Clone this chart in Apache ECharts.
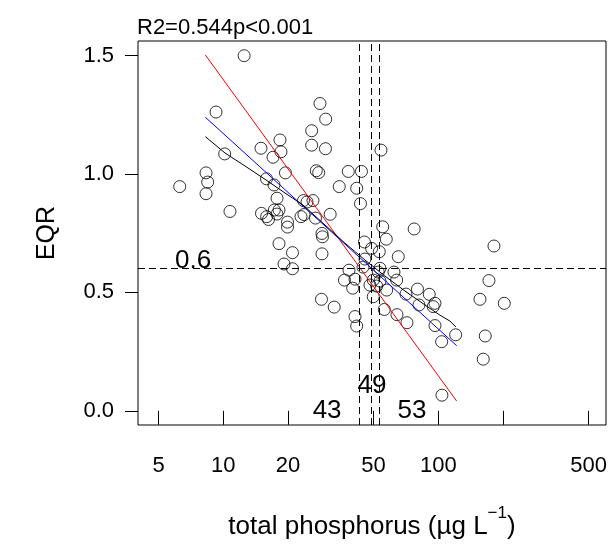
<!DOCTYPE html>
<html>
<head>
<meta charset="utf-8">
<script src="https://cdn.jsdelivr.net/npm/echarts@6/dist/echarts.min.js"></script>
<style>
  html, body { margin: 0; padding: 0; background: #fff; }
  #main { width: 613px; height: 551px; }
</style>
</head>
<body>
<div id="main"></div>
<script>
// sites: total phosphorus (ug/L) vs EQR
var tp = [12.5, 9.25, 10.15, 8.31, 8.46, 8.31, 6.27, 10.74, 14.97, 18.35,
  18.55, 17.03, 15.88, 17.21, 19.46, 17.78, 28.17, 29.94, 25.77, 25.77,
  29.87, 27.08, 27.78, 38.14, 43.93, 34.63, 41.73, 43.46, 54.14, 23.61,
  24.51, 26.13, 31.42, 15.05, 15.91, 16.23, 17.27, 17.78, 18.16, 19.89,
  19.89, 22.98, 23.73, 26.85, 28.78, 28.93, 18.16, 20.98, 28.78, 19.16,
  20.98, 28.62, 32.8, 55.13, 77.25, 57.3, 45.36, 48.99, 53.17, 65.16,
  45.6, 38.43, 44.65, 53.56, 52.6, 62.23, 36.62, 40.99, 39.99, 48.11,
  51.71, 53.56, 64.04, 57.54, 49.84, 80.04, 70.76, 90.81, 81.33, 96.54,
  94.78, 56.09, 64.24, 71.52, 40.99, 41.73, 96.54, 120.5, 103.7, 104.0,
  181.6, 172.1, 156.3, 202.8, 165.4, 161.9, 49.84];
var eqr = [1.50, 1.262, 1.085, 1.005, 0.966, 0.917, 0.947, 0.842, 1.109, 1.144,
  1.094, 1.071, 0.980, 0.954, 1.005, 0.898, 1.298, 1.232, 1.183, 1.122,
  1.107, 1.014, 1.006, 1.011, 1.011, 0.947, 0.940, 0.875, 1.101, 0.888,
  0.882, 0.888, 0.830, 0.834, 0.820, 0.808, 0.848, 0.831, 0.848, 0.797,
  0.776, 0.820, 0.829, 0.814, 0.749, 0.735, 0.706, 0.668, 0.663, 0.620,
  0.600, 0.471, 0.438, 0.777, 0.768, 0.725, 0.713, 0.686, 0.672, 0.651,
  0.641, 0.594, 0.607, 0.602, 0.586, 0.586, 0.552, 0.556, 0.518, 0.531,
  0.527, 0.548, 0.552, 0.510, 0.482, 0.514, 0.493, 0.492, 0.447, 0.454,
  0.440, 0.428, 0.406, 0.372, 0.398, 0.358, 0.360, 0.321, 0.292, 0.066,
  0.696, 0.550, 0.471, 0.454, 0.316, 0.218, 0.552];

// fitted lines
var fitX = [8.25, 121.8];
var redY = [1.503, 0.041];
var blueY = [1.240, 0.275];
var smoothX = [8.25, 10.18, 12.62, 15.8, 19.36, 23.49, 29.72, 36.81, 45.6, 56.5, 70.0, 86.7, 101.8, 113.3, 120.9];
var smoothY = [1.158, 1.089, 1.034, 0.975, 0.920, 0.869, 0.785, 0.708, 0.637, 0.569, 0.506, 0.447, 0.404, 0.379, 0.354];

// thresholds and their labels
var tpLimits = [43, 49, 53];
var eqrLimit = 0.6;
var noteX = [7.23, 30.4, 49.2, 75.5];
var noteY = [0.632, 0.0, 0.104, 0.0];
var noteText = ['0.6', '43', '49', '53'];

var xTicks = [5, 10, 20, 50, 100, 200, 500];
var xLabels = [5, 10, 20, 50, 100, 500];
var yTicks = [0, 0.5, 1, 1.5];

var font = 'Liberation Sans, Arial, sans-serif';

function pairs(xs, ys) {
  var out = [];
  for (var i = 0; i < xs.length; i++) out.push([xs[i], ys[i]]);
  return out;
}

var limitLines = tpLimits.map(function (v) { return { xAxis: v }; });
limitLines.push({ yAxis: eqrLimit });

var notes = [];
for (var i = 0; i < noteX.length; i++) {
  notes.push({ coord: [noteX[i], noteY[i]], value: noteText[i] });
}

var myChart = echarts.init(document.getElementById('main'));

var option = {
  animation: false,
  backgroundColor: '#fff',
  textStyle: { fontFamily: font, color: '#000' },
  title: {
    text: 'R2=0.544p<0.001',
    left: 137,
    top: 17,
    padding: 0,
    textStyle: { fontFamily: font, fontSize: 22, fontWeight: 'normal', color: '#000' }
  },
  grid: {
    left: 138, right: 7, top: 41, bottom: 126,
    show: true, borderColor: '#000', borderWidth: 1
  },
  xAxis: {
    type: 'log',
    min: 4.01,
    max: 603,
    axisLine: { show: false },
    axisTick: { show: true, length: 14, lineStyle: { color: '#000' }, customValues: xTicks },
    axisLabel: {
      customValues: xLabels, margin: 30, fontSize: 22, color: '#000', fontFamily: font,
      formatter: function (v) { return String(Math.round(v)); }
    },
    splitLine: { show: false },
    minorTick: { show: false },
    name: '{a|total phosphorus (\u00b5g L}{b|\u22121}{a|)}',
    nameLocation: 'middle',
    nameGap: 80,
    nameTextStyle: {
      rich: {
        a: { fontSize: 26, color: '#000', fontFamily: font, verticalAlign: 'bottom' },
        b: { fontSize: 17, color: '#000', fontFamily: font, verticalAlign: 'bottom', padding: [0, 0, 18, 0] }
      }
    }
  },
  yAxis: {
    type: 'value',
    min: -0.060,
    max: 1.562,
    axisLine: { show: false },
    axisTick: { show: true, length: 13, lineStyle: { color: '#000' }, customValues: yTicks },
    axisLabel: {
      customValues: yTicks, margin: 24, fontSize: 22, color: '#000', fontFamily: font,
      formatter: function (v) { return v.toFixed(1); }
    },
    splitLine: { show: false },
    name: 'EQR',
    nameLocation: 'middle',
    nameRotate: 90,
    nameGap: 78,
    nameTextStyle: { fontSize: 25, color: '#000', fontFamily: font }
  },
  series: [
    {
      type: 'scatter',
      data: pairs(tp, eqr),
      symbol: 'circle',
      symbolSize: 12,
      itemStyle: { color: 'rgba(0,0,0,0)', borderColor: '#000', borderWidth: 1 },
      markLine: {
        silent: true,
        symbol: 'none',
        label: { show: false },
        lineStyle: { color: '#000', width: 1, type: [7, 4] },
        data: limitLines
      },
      markPoint: {
        silent: true,
        symbol: 'circle',
        symbolSize: 0,
        itemStyle: { color: '#000' },
        label: {
          show: true, position: 'inside', fontSize: 26, color: '#000',
          textBorderWidth: 0, fontFamily: font,
          formatter: function (p) { return p.value; }
        },
        data: notes
      }
    },
    {
      type: 'line', data: pairs(fitX, redY), showSymbol: false,
      lineStyle: { color: '#ff0000', width: 1 }
    },
    {
      type: 'line', data: pairs(fitX, blueY), showSymbol: false,
      lineStyle: { color: '#0000ff', width: 1 }
    },
    {
      type: 'line', data: pairs(smoothX, smoothY), showSymbol: false,
      lineStyle: { color: '#000', width: 1 }
    }
  ]
};

myChart.setOption(option);
</script>
</body>
</html>
